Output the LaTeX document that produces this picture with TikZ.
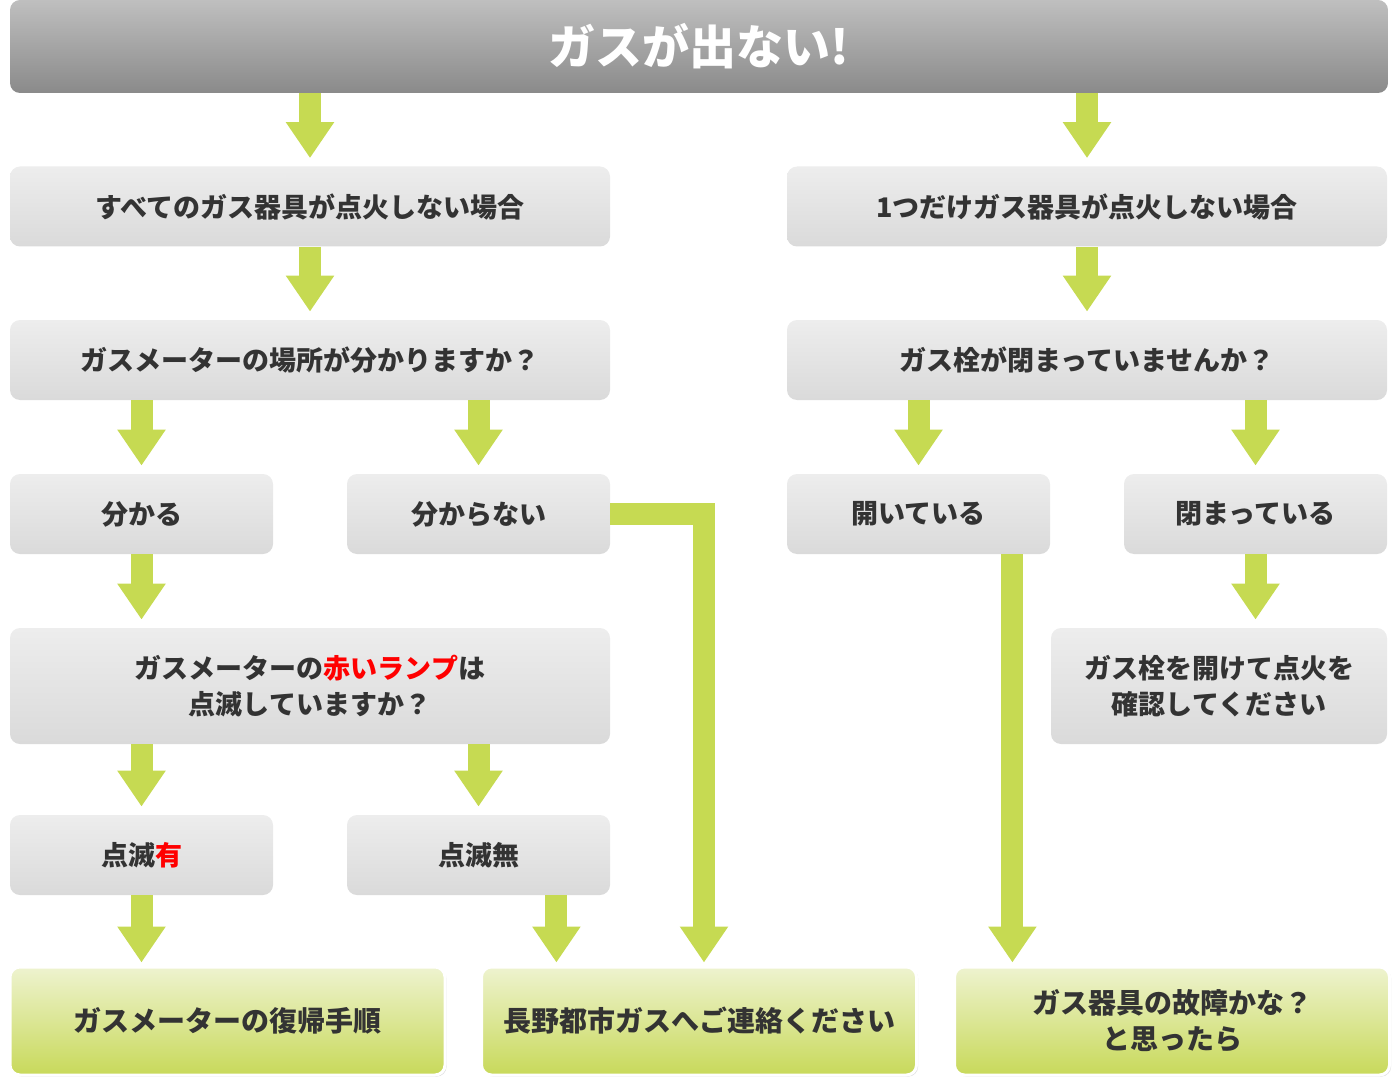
\documentclass[tikz,border=0pt]{standalone}
\usepackage{fontspec}
\newfontfamily\jpfont{Noto Sans CJK JP}
\usetikzlibrary{arrows.meta, shadows}
\definecolor{gasgreen}{HTML}{C6DA52}
\definecolor{gastext}{HTML}{333333}
\definecolor{gasred}{HTML}{FF0000}
\definecolor{boxtop}{HTML}{EDEDED}
\definecolor{boxbot}{HTML}{DADADA}
\definecolor{headtop}{HTML}{BFBFBF}
\definecolor{headbot}{HTML}{8A8A8A}
\definecolor{goaltop}{HTML}{EEF3CF}
\definecolor{goalbot}{HTML}{C8D95A}
\tikzset{
  qbox/.style    = {font=\jpfont\bfseries\fontsize{13.5}{18}\selectfont, text=gastext,
                    align=center, rounded corners=5pt, top color=boxtop, bottom color=boxbot,
                    minimum height=40pt, minimum width=300pt, inner sep=0pt},
  abox/.style    = {qbox, minimum width=131.5pt},
  headbox/.style = {qbox, top color=headtop, bottom color=headbot, text=white,
                    font=\jpfont\bfseries\fontsize{23.5}{28}\selectfont,
                    minimum width=689pt, minimum height=46.5pt},
  goalbox/.style = {qbox, top color=goaltop, bottom color=goalbot, draw=white, line width=1.5pt,
                    font=\jpfont\bfseries\fontsize{14}{18}\selectfont,
                    minimum width=217.5pt, minimum height=54pt,
                    drop shadow={opacity=0.25, shadow xshift=0.8pt, shadow yshift=-0.8pt}},
  flow/.style    = {-{Triangle[width=23pt, length=18pt]}, line width=11pt, draw=gasgreen,
                    shorten >=4pt},
  goalflow/.style = {flow, shorten >=1.5pt},
}
\begin{document}
\begin{tikzpicture}[x=0.5pt, y=-0.5pt]
  \useasboundingbox (0,0) rectangle (1400,1080);
  \node[headbox] (head) at (699,46.5) {ガスが出ない!};
  \node[qbox] (all) at (310,206.5) {すべてのガス器具が点火しない場合};
  \node[qbox] (one) at (1087,206.5) {1つだけガス器具が点火しない場合};
  \node[qbox] (meter) at (310,360) {ガスメーターの場所が分かりますか？};
  \node[qbox] (valve) at (1087,360) {ガス栓が閉まっていませんか？};
  \node[abox] (known) at (141.5,514) {分かる};
  \node[abox] (unknown) at (478.5,514) {分からない};
  \node[abox] (open) at (918.5,514) {開いている};
  \node[abox] (closed) at (1255.5,514) {閉まっている};
  \node[qbox, minimum height=58pt] (lamp) at (310,686)
    {ガスメーターの\textcolor{gasred}{赤いランプ}は\\点滅していますか？};
  \node[qbox, minimum height=58pt, minimum width=168pt] (check) at (1219,686)
    {ガス栓を開けて点火を\\確認してください};
  \node[abox] (blinkyes) at (141.5,855) {点滅\textcolor{gasred}{有}};
  \node[abox] (blinkno) at (478.5,855) {点滅無};
  \node[goalbox] (reset) at (227.5,1021) {ガスメーターの復帰手順};
  \node[goalbox] (call) at (699,1021) {長野都市ガスへご連絡ください};
  \node[goalbox] (fault) at (1172,1021) {ガス器具の故障かな？\\と思ったら};

  \draw[flow] (all.north |- head.south) -- (all.north);
  \draw[flow] (one.north |- head.south) -- (one.north);
  \draw[flow] (all) -- (meter);
  \draw[flow] (one) -- (valve);
  \draw[flow] (known.north |- meter.south) -- (known.north);
  \draw[flow] (unknown.north |- meter.south) -- (unknown.north);
  \draw[flow] (open.north |- valve.south) -- (open.north);
  \draw[flow] (closed.north |- valve.south) -- (closed.north);
  \draw[flow] (known) -- (known |- lamp.north);
  \draw[flow] (closed) -- (closed |- check.north);
  \draw[flow] (blinkyes.north |- lamp.south) -- (blinkyes.north);
  \draw[flow] (blinkno.north |- lamp.south) -- (blinkno.north);
  \draw[goalflow] (blinkyes) -- (blinkyes |- reset.north);
  \draw[goalflow] ([xshift=-27pt]blinkno.south east) -- ([xshift=-27pt]blinkno.south east |- call.north);
  \draw[goalflow] (unknown.east) -| ([xshift=2.5pt]call.north);
  \draw[goalflow] ([xshift=-19pt]open.south east) -- ([xshift=-19pt]open.south east |- fault.north);
\end{tikzpicture}
\end{document}
